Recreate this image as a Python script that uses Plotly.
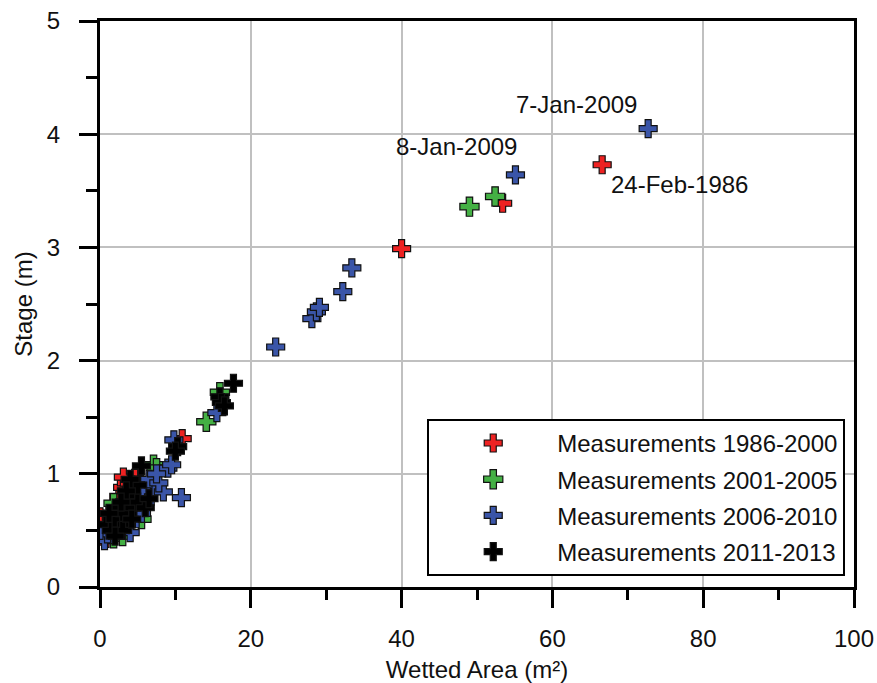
import plotly.graph_objects as go

# ---- data ----
series_names = ["Measurements 1986-2000", "Measurements 2001-2005",
                "Measurements 2006-2010", "Measurements 2011-2013"]

red_x = [0.3, 0.5, 0.8, 1.2, 0.2, 0.0, 2.5, 3.0, 3.5, 4.6, 4.2, 3.1, 2.0, 1.5, 6.0, 10.9, 40.0, 53.4, 66.6]
red_y = [0.45, 0.52, 0.43, 0.47, 0.60, 0.62, 0.80, 0.88, 0.92, 0.96, 0.90, 0.97, 0.70, 0.62, 0.80, 1.31, 2.99, 3.39, 3.73]

green_x = [1.0, 1.8, 2.5, 1.8, 3.0, 4.0, 7.1, 7.5, 14.1, 15.9, 49.0, 52.4, 5.5]
green_y = [0.55, 0.43, 0.65, 0.74, 0.45, 0.70, 1.08, 1.05, 1.46, 1.72, 3.36, 3.45, 0.60]

blue_x = [0.6, 1.0, 2.0, 3.0, 4.0, 5.5, 6.0, 7.0, 8.4, 9.0, 9.8, 9.5, 6.5, 5.5, 4.5, 3.5, 2.5, 7.8, 7.5,
          10.8, 15.5, 23.3, 28.1, 28.7, 29.1, 32.2, 33.4, 55.1, 72.7, 4.0, 0.0]
blue_y = [0.41, 0.47, 0.55, 0.60, 0.55, 0.65, 0.75, 0.85, 0.84, 1.05, 1.30, 1.08, 0.95, 0.85, 0.75, 0.70, 0.62, 0.92, 1.00,
          0.79, 1.54, 2.12, 2.37, 2.43, 2.47, 2.61, 2.82, 3.64, 4.05, 0.48, 0.50]

black_x = [0.8, 1.5, 2.0, 2.5, 3.0, 3.5, 4.0, 4.5, 5.0, 5.5, 5.0, 4.0, 3.5, 6.0, 6.5, 3.0, 2.0, 1.2, 2.8, 4.2,
           10.3, 10.0, 15.9, 16.1, 16.5, 17.7]
black_y = [0.55, 0.50, 0.60, 0.70, 0.65, 0.55, 0.80, 0.70, 0.75, 1.07, 0.90, 0.95, 0.85, 0.70, 0.78, 0.50, 0.45, 0.65, 0.75, 0.60,
           1.24, 1.20, 1.68, 1.63, 1.60, 1.80]

label_text = ["7-Jan-2009", "8-Jan-2009", "24-Feb-1986"]
label_x = [63.2, 47.3, 76.9]
label_y = [4.26, 3.89, 3.56]

x_ticks = [0, 20, 40, 60, 80, 100]
y_ticks = [0, 1, 2, 3, 4, 5]

FONT = "Liberation Sans"
FS = 24

fig = go.Figure()
colors = ["#ee2222", "#44b044", "#3a55a8", "#000000"]
sizes = [15, 16, 15, 15]
for name, xs, ys, c, s in zip(series_names,
                              [red_x, green_x, blue_x, black_x],
                              [red_y, green_y, blue_y, black_y],
                              colors, sizes):
    fig.add_trace(go.Scatter(
        x=xs, y=ys, mode="markers", name=name, legendgroup=name,
        marker=dict(symbol="cross", size=s, color=c,
                    line=dict(color="#111111", width=1.2)),
    ))

for t, lx, ly in zip(label_text, label_x, label_y):
    fig.add_annotation(x=lx, y=ly, text=t, showarrow=False,
                       font=dict(family=FONT, size=FS, color="#111111"))

axis_common = dict(
    showline=True, linecolor="#000000", linewidth=3, mirror=True,
    showgrid=True, gridcolor="#c0c0c0", gridwidth=2,
    zeroline=False, ticks="outside", ticklen=18, tickwidth=2.5, tickcolor="#000000",
    tickfont=dict(family=FONT, size=FS, color="#111111"),
    automargin=False, ticklabeloverflow="allow",
)
fig.update_xaxes(range=[0, 100], tickvals=x_ticks, ticklabelstandoff=10,
                 minor=dict(dtick=10, ticks="outside", ticklen=10, tickwidth=2.5, tickcolor="#000000", showgrid=False),
                 title=dict(text="Wetted Area (m²)", font=dict(family=FONT, size=FS, color="#111111"), standoff=13),
                 **axis_common)
fig.update_yaxes(range=[0, 5], tickvals=y_ticks, ticklabelstandoff=14,
                 minor=dict(dtick=0.5, ticks="outside", ticklen=11, tickwidth=2.5, tickcolor="#000000", showgrid=False),
                 title=dict(text="Stage (m)", font=dict(family=FONT, size=FS, color="#111111"), standoff=8),
                 **axis_common)

fig.update_layout(
    width=877, height=683,
    margin=dict(l=100, r=23, t=21, b=96),
    paper_bgcolor="white", plot_bgcolor="white",
    font=dict(family=FONT, size=FS, color="#111111"),
    showlegend=True,
    legend=dict(x=0.434, y=0.297, xanchor="left", yanchor="top",
                bgcolor="white", bordercolor="#000000", borderwidth=2,
                font=dict(family=FONT, size=FS, color="#111111"),
                traceorder="grouped", tracegroupgap=2, itemwidth=118),
)

# remove the default page margin so the figure fills the window exactly
fig.write_html("out.html",
               config={"displayModeBar": False},
               post_script="document.body.style.margin='0';document.body.style.overflow='hidden';")
